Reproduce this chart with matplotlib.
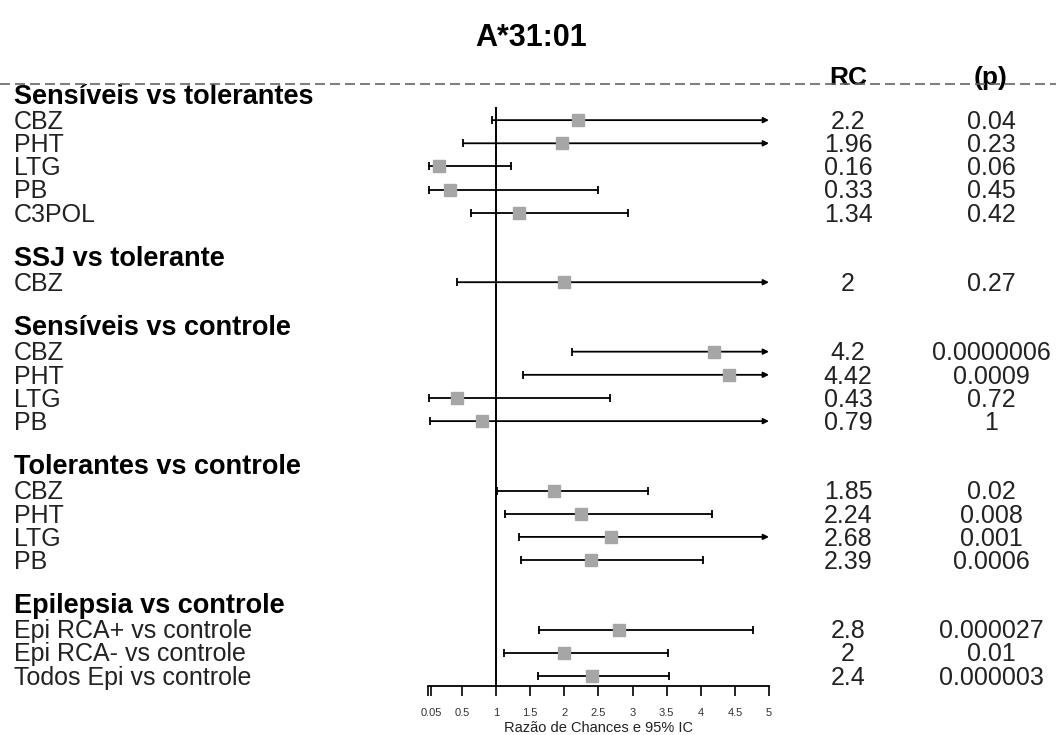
import matplotlib
matplotlib.use("Agg")
import matplotlib.pyplot as plt
from matplotlib.lines import Line2D
from matplotlib.transforms import blended_transform_factory
import numpy as np

plt.rcParams['font.family'] = ['Liberation Sans', 'DejaVu Sans']

title = "A*31:01"
group_titles = ["Sensíveis vs tolerantes", "SSJ vs tolerante", "Sensíveis vs controle",
                "Tolerantes vs controle", "Epilepsia vs controle"]
group_sizes = [5, 1, 4, 4, 3]
labels = ["CBZ", "PHT", "LTG", "PB", "C3POL",
          "CBZ",
          "CBZ", "PHT", "LTG", "PB",
          "CBZ", "PHT", "LTG", "PB",
          "Epi RCA+ vs controle", "Epi RCA- vs controle", "Todos Epi vs controle"]
rc = [2.2, 1.96, 0.16, 0.33, 1.34,
      2.0,
      4.2, 4.42, 0.43, 0.79,
      1.85, 2.24, 2.68, 2.39,
      2.8, 2.0, 2.4]
rc_text = ["2.2", "1.96", "0.16", "0.33", "1.34",
           "2",
           "4.2", "4.42", "0.43", "0.79",
           "1.85", "2.24", "2.68", "2.39",
           "2.8", "2", "2.4"]
p_text = ["0.04", "0.23", "0.06", "0.45", "0.42",
          "0.27",
          "0.0000006", "0.0009", "0.72", "1",
          "0.02", "0.008", "0.001", "0.0006",
          "0.000027", "0.01", "0.000003"]
lower = [0.94, 0.52, 0.02, 0.02, 0.64,
         0.43,
         2.12, 1.40, 0.02, 0.04,
         1.01, 1.13, 1.34, 1.37,
         1.63, 1.11, 1.61]
# upper limits beyond 5 are drawn truncated with an arrow
upper = [6.0, 6.0, 1.22, 2.50, 2.94,
         6.0,
         6.0, 6.0, 2.67, 6.0,
         3.22, 4.17, 6.0, 4.04,
         4.76, 3.52, 3.54]
xticks = [0, 0.05, 0.5, 1, 1.5, 2, 2.5, 3, 3.5, 4, 4.5, 5]
xticklabels = ["", "0.05", "0.5", "1", "1.5", "2", "2.5", "3", "3.5", "4", "4.5", "5"]
xlabel = "Razão de Chances e 95% IC"
col_headers = ["RC", "(p)"]

W, H = 1056, 735
fig = plt.figure(figsize=(W / 100, H / 100), dpi=100)
x0, x1 = 427.75, 769.0
ytop_px, ybot_px = 85.4, 686.0
ax = fig.add_axes([x0 / W, 1 - ybot_px / H, (x1 - x0) / W, (ybot_px - ytop_px) / H])

# row positions
header_rows = []
item_rows = []
r = 0
for n in group_sizes:
    header_rows.append(r)
    item_rows.extend(range(r + 1, r + 1 + n))
    r += n + 2
last_row = item_rows[-1]
ylim_bottom = last_row + 0.44
ax.set_ylim(ylim_bottom, -0.5)
xmax = 5.0
ax.set_xlim(0, xmax)

for s in ["top", "right", "left"]:
    ax.spines[s].set_visible(False)
ax.spines["bottom"].set_bounds(0, xmax)
ax.spines["bottom"].set_linewidth(1.3)
ax.set_yticks([])
ax.set_xticks(xticks)
ax.set_xticklabels(xticklabels)
ax.tick_params(axis="x", direction="out", length=7, width=1.2, labelsize=8,
               pad=9, labelcolor="#333333")
ax.set_xlabel(xlabel, fontsize=10.5, labelpad=2, color="#222222")

# reference line
ax.vlines(1, header_rows[0] + 0.45, ylim_bottom, color="black", lw=1.4, clip_on=False)

gray = "#a6a6a6"
for yi, m, lo, hi in zip(item_rows, rc, lower, upper):
    if hi > xmax:
        ax.annotate("", xy=(xmax, yi), xytext=(lo, yi),
                    arrowprops=dict(arrowstyle="-|>", color="black", lw=1.3,
                                    mutation_scale=8, shrinkA=0, shrinkB=0),
                    annotation_clip=False)
        ax.plot([lo], [yi], marker="|", color="black", ms=5.5, mew=1.3, clip_on=False)
    else:
        ax.plot([lo, hi], [yi, yi], color="black", lw=1.3, clip_on=False)
        ax.plot([lo, hi], [yi, yi], ls="none", marker="|", color="black", ms=5.5,
                mew=1.3, clip_on=False)
    ax.plot([m], [yi], marker="s", color=gray, ms=9.2, mec=gray, clip_on=False, zorder=5)

tr = blended_transform_factory(fig.transFigure, ax.transData)
left_x = 14 / W
for yh, t in zip(header_rows, group_titles):
    ax.text(left_x, yh + 0.3, t, transform=tr, ha="left", va="baseline", fontsize=19.5,
            fontweight="bold", color="black")
rc_x = 848 / W
p_x = 991 / W
for yi, lab, rt, pt in zip(item_rows, labels, rc_text, p_text):
    ax.text(left_x, yi + 0.38, lab, transform=tr, ha="left", va="baseline", fontsize=18,
            color="#222222")
    ax.text(rc_x, yi + 0.38, rt, transform=tr, ha="center", va="baseline", fontsize=18,
            color="#222222")
    ax.text(p_x, yi + 0.38, pt, transform=tr, ha="center", va="baseline", fontsize=18,
            color="#222222")

# column headers and dashed separator
ax.text(rc_x, -0.5, col_headers[0], transform=tr, ha="center", va="baseline",
        fontsize=19, fontweight="bold")
ax.text(p_x, -0.5, col_headers[1], transform=tr, ha="center", va="baseline",
        fontsize=19, fontweight="bold")
fig.add_artist(Line2D([0, 1], [-0.56, -0.56], transform=tr, ls=(0, (6, 3)),
                      color="#666666", lw=1.2))

fig.text(531 / W, 1 - 38 / H, title, ha="center", va="center", fontsize=22,
         fontweight="bold")

fig.savefig("out.png", dpi=100, facecolor="white")
